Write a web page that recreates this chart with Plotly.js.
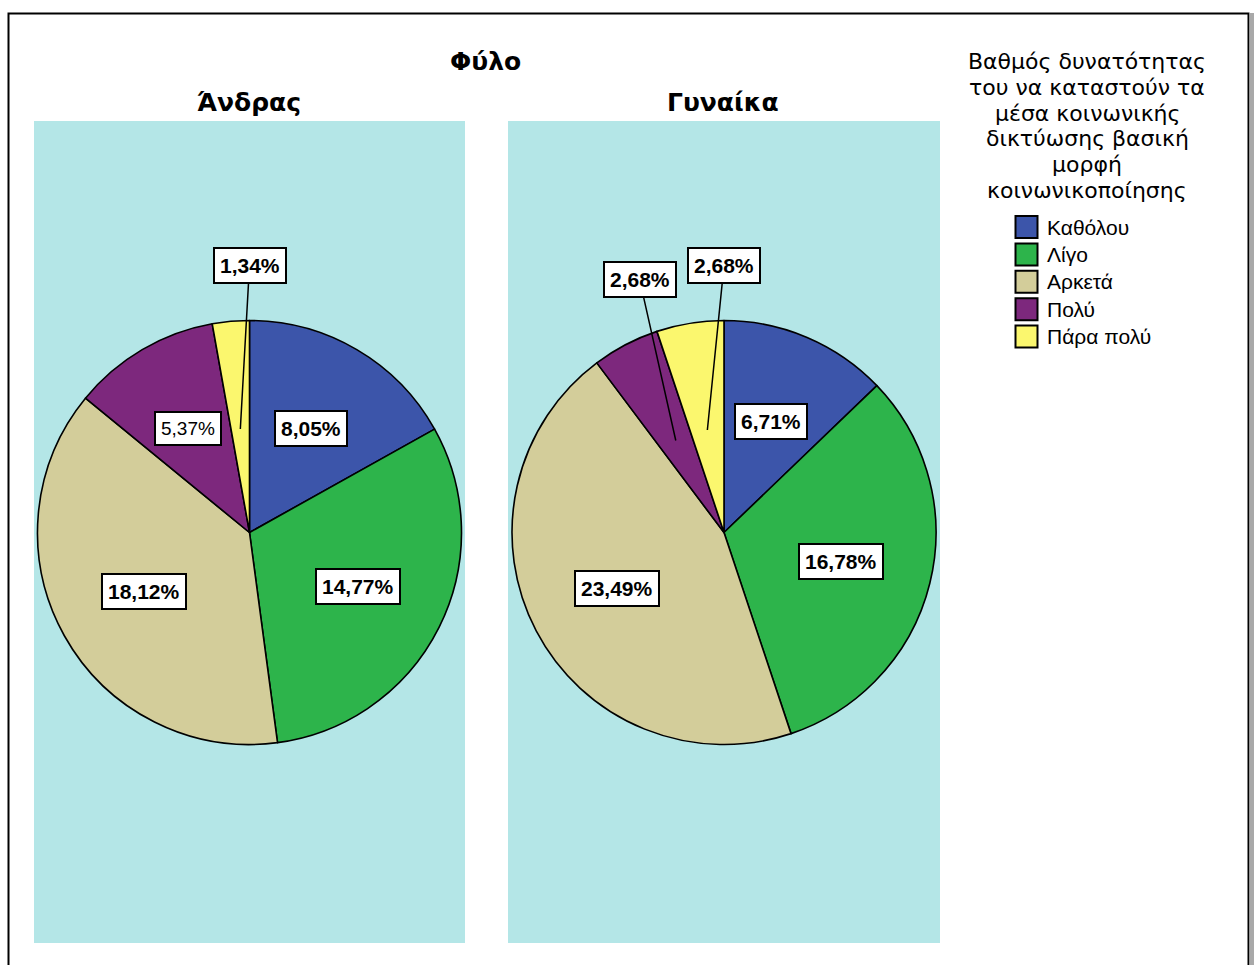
<!DOCTYPE html>
<html>
<head>
<meta charset="utf-8">
<script src="https://cdn.plot.ly/plotly-3.0.1.min.js"></script>
<style>
  html, body { margin: 0; padding: 0; background: #ffffff; }
  #chart { width: 1254px; height: 965px; }
</style>
</head>
<body>
<div id="chart"></div>
<script>
// Response categories, in slice and legend order
const categories = ['Καθόλου', 'Λίγο', 'Αρκετά', 'Πολύ', 'Πάρα πολύ'];
// Panel headings
const groups = ['Άνδρας', 'Γυναίκα'];
// Share of all respondents (%) per category, one list per gender
const menValues = [8.05, 14.77, 18.12, 5.37, 1.34];
const womenValues = [6.71, 16.78, 23.49, 2.68, 2.68];
const chartTitle = 'Φύλο';
const legendTitleLines = [
  'Βαθμός δυνατότητας',
  'του να καταστούν τα',
  'μέσα κοινωνικής',
  'δικτύωσης βασική',
  'μορφή',
  'κοινωνικοποίησης'
];

// Styling
const sliceColors = ['#3c55aa', '#2db44b', '#d3cd9a', '#7d287d', '#fbf76e'];
const panelColor = '#b4e6e7';
const labelFont = 'Liberation Sans, Arial, sans-serif';
const headFont = 'DejaVu Sans, Verdana, sans-serif';
// Label weight per slice (one label is set in regular weight)
const menLabelBold = [true, true, true, false, true];
const womenLabelBold = [true, true, true, true, true];

// Page geometry in pixels
const W = 1254, H = 965;
const R = 212;
const panelTop = 121, panelBottom = 943;
const pies = [
  { name: groups[0], values: menValues, bold: menLabelBold, cx: 249.5, cy: 532.5, panel: [34, 465] },
  { name: groups[1], values: womenValues, bold: womenLabelBold, cx: 724, cy: 532.5, panel: [508, 940] }
];

const px = x => x / W;
const py = y => 1 - y / H;
const fmt = v => v.toFixed(2).replace('.', ',') + '%';

const traces = pies.map(p => ({
  type: 'pie',
  labels: categories,
  values: p.values,
  sort: false,
  direction: 'clockwise',
  rotation: 0,
  marker: { colors: sliceColors, line: { color: '#000000', width: 1.6 } },
  textinfo: 'none',
  hoverinfo: 'label+value',
  showlegend: false,
  domain: {
    x: [px(p.cx - R), px(p.cx + R)],
    y: [py(p.cy + R), py(p.cy - R)]
  }
}));

const shapes = [];
const annotations = [];

// Outer frame
shapes.push({ type: 'rect', xref: 'paper', yref: 'paper', layer: 'below',
  x0: px(8.5), x1: px(1248.5), y0: py(975), y1: py(13.5),
  line: { color: '#000000', width: 2 }, fillcolor: 'rgba(0,0,0,0)' });
shapes.push({ type: 'rect', xref: 'paper', yref: 'paper', layer: 'below',
  x0: px(1249.5), x1: px(1254), y0: py(975), y1: py(13),
  line: { width: 0 }, fillcolor: '#a9a9a9' });

// Title
annotations.push({ xref: 'paper', yref: 'paper', x: px(485), y: py(62),
  text: '<b>' + chartTitle + '</b>', showarrow: false,
  font: { family: headFont, size: 25, color: '#000000' },
  xanchor: 'center', yanchor: 'middle' });

pies.forEach(p => {
  // Panel background
  shapes.push({ type: 'rect', xref: 'paper', yref: 'paper', layer: 'below',
    x0: px(p.panel[0]), x1: px(p.panel[1]), y0: py(panelBottom), y1: py(panelTop),
    line: { width: 0 }, fillcolor: panelColor });
  // Panel heading
  annotations.push({ xref: 'paper', yref: 'paper',
    x: px((p.panel[0] + p.panel[1]) / 2 - 1), y: py(103),
    text: '<b>' + p.name + '</b>', showarrow: false,
    font: { family: headFont, size: 25, color: '#000000' },
    xanchor: 'center', yanchor: 'middle' });

  // Slice value labels
  const total = p.values.reduce((a, b) => a + b, 0);
  const at = (ang, r) => [p.cx + r * Math.sin(ang * Math.PI / 180),
                          p.cy - r * Math.cos(ang * Math.PI / 180)];
  let start = 0;
  p.values.forEach((v, i) => {
    const sweep = v / total * 360;
    const mid = start + sweep / 2;
    const end = start + sweep;
    const bold = p.bold[i];
    const box = {
      xref: 'paper', yref: 'paper',
      text: bold ? '<b>' + fmt(v) + '</b>' : fmt(v),
      font: { family: labelFont, size: bold ? 21 : 19, color: '#000000' },
      bgcolor: '#ffffff', bordercolor: '#000000', borderwidth: 2, borderpad: 5,
      xanchor: 'center', yanchor: 'middle'
    };
    if (sweep >= 30) {
      const [x, y] = at(mid, 0.57 * R);
      annotations.push(Object.assign(box, { x: px(x), y: py(y), showarrow: false }));
    } else {
      // Narrow slice: label outside with a leader line into the slice
      const [tx, ty] = at(mid, 0.49 * R);
      const [bx, by] = at(end, 1.26 * R);
      annotations.push(Object.assign(box, {
        x: px(tx), y: py(ty), ax: bx - tx, ay: by - ty,
        showarrow: true, arrowhead: 0, arrowwidth: 1.5, arrowcolor: '#000000', standoff: 0
      }));
    }
    start = end;
  });
});

// Legend block
const legendX = 1087;
legendTitleLines.forEach((line, i) => {
  annotations.push({ xref: 'paper', yref: 'paper', x: px(legendX), y: py(62 + 25.6 * i),
    text: line, showarrow: false,
    font: { family: headFont, size: 22, color: '#000000' },
    xanchor: 'center', yanchor: 'middle' });
});
categories.forEach((c, i) => {
  const yc = 227 + 27.4 * i;
  shapes.push({ type: 'rect', xref: 'paper', yref: 'paper',
    x0: px(1015.5), x1: px(1037.5), y0: py(yc + 11), y1: py(yc - 11),
    line: { color: '#000000', width: 2 }, fillcolor: sliceColors[i] });
  annotations.push({ xref: 'paper', yref: 'paper', x: px(1045), y: py(yc),
    text: c, showarrow: false,
    font: { family: labelFont, size: 21, color: '#000000' },
    xanchor: 'left', yanchor: 'middle' });
});

const layout = {
  width: W, height: H,
  margin: { l: 0, r: 0, t: 0, b: 0 },
  paper_bgcolor: '#ffffff',
  plot_bgcolor: '#ffffff',
  showlegend: false,
  shapes: shapes,
  annotations: annotations
};

Plotly.newPlot('chart', traces, layout, { displayModeBar: false, responsive: false });
</script>
</body>
</html>
